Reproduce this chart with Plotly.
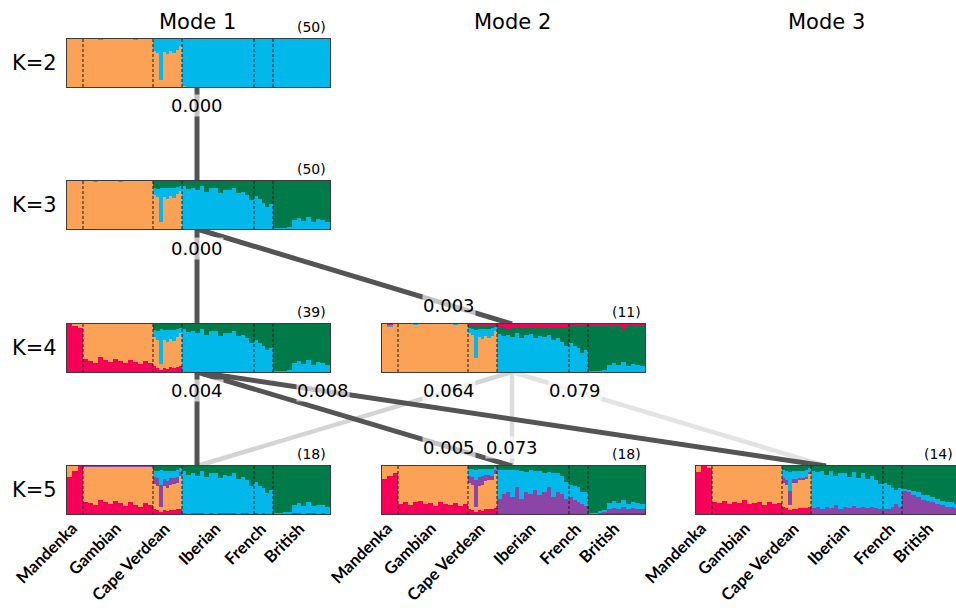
import plotly.graph_objects as go

W, H = 956, 608

# ---------------- data ----------------
populations = ["Mandenka", "Gambian", "Cape Verdean", "Iberian", "French", "British"]
pop_sizes = [16, 70, 29, 72, 19, 57]          # relative widths of the populations
bars_per_pop = [3, 14, 9, 16, 5, 12]          # groups of individuals drawn per population

# Values are percent membership, bottom-to-top; last component = remainder.
# order: Mandenka(3) Gambian(14) CapeVerdean(9) Iberian(16) French(5) British(12)

# Mode 1, K=2 : orange, cyan
m1k2_orange = [100, 100, 100,
               100, 100, 100, 99, 100, 100, 100, 100, 100, 100, 99, 100, 100, 100,
               75, 70, 15, 72, 68, 74, 70, 78, 85,
               3, 1, 0, 1, 0, 0, 1, 0, 0, 0, 1, 0, 0, 0, 0, 0,
               0, 0, 0, 0, 0,
               0, 0, 0, 0, 0, 0, 0, 0, 0, 0, 0, 0]

# Mode 1, K=3 : orange, cyan, green
m1k3_orange = [100, 100, 100,
               100, 100, 99, 100, 100, 100, 100, 99, 100, 100, 100, 100, 100, 100,
               70, 66, 14, 66, 62, 68, 64, 72, 80,
               1, 1, 0, 1, 0, 0, 1, 0, 0, 0, 1, 0, 0, 0, 0, 0,
               0, 0, 0, 0, 0,
               0, 0, 0, 0, 0, 0, 0, 0, 0, 0, 0, 0]
m1k3_cyan = [0, 0, 0,
             0, 0, 1, 0, 0, 0, 0, 1, 0, 0, 0, 0, 0, 0,
             16, 18, 72, 20, 24, 18, 22, 16, 10,
             88, 82, 86, 80, 90, 78, 84, 86, 76, 82, 80, 85, 74, 78, 70, 60,
             68, 62, 55, 45, 52,
             2, 2, 3, 4, 18, 22, 16, 24, 15, 20, 18, 14]

# Mode 1, K=4 : red, orange, cyan, green
m1k4_red = [100, 97, 92,
            28, 22, 18, 32, 24, 20, 28, 22, 18, 26, 20, 16, 22, 18,
            12, 8, 5, 9, 6, 10, 8, 10, 12,
            0, 0, 0, 0, 0, 0, 0, 0, 0, 0, 0, 0, 0, 0, 0, 0,
            0, 0, 0, 0, 0,
            0, 0, 0, 0, 0, 0, 0, 0, 0, 0, 0, 0]
m1k4_orange = [0, 3, 8,
               72, 78, 82, 68, 76, 80, 72, 78, 82, 74, 80, 84, 78, 82,
               60, 58, 12, 57, 56, 58, 56, 62, 70,
               1, 1, 0, 1, 0, 0, 1, 0, 0, 0, 1, 0, 0, 0, 0, 0,
               0, 0, 0, 0, 0,
               0, 0, 0, 0, 0, 0, 0, 0, 0, 0, 0, 0]
m1k4_cyan = [0, 0, 0,
             0, 0, 0, 0, 0, 0, 0, 0, 0, 0, 0, 0, 0, 0,
             16, 20, 72, 22, 26, 20, 24, 18, 9,
             88, 82, 86, 80, 90, 78, 84, 86, 76, 82, 80, 85, 74, 78, 70, 60,
             66, 60, 55, 45, 50,
             2, 2, 3, 4, 18, 22, 16, 24, 15, 20, 18, 14]

# Mode 2, K=4 : orange, cyan, green, red
m2k4_orange = [100, 95, 100,
               100, 100, 100, 99, 100, 100, 100, 100, 100, 100, 100, 99, 100, 100,
               82, 78, 30, 72, 68, 74, 70, 76, 86,
               0, 0, 0, 0, 0, 0, 0, 0, 0, 0, 0, 0, 0, 0, 0, 0,
               0, 0, 0, 0, 0,
               0, 0, 0, 0, 0, 0, 0, 0, 0, 0, 0, 0]
m2k4_cyan = [0, 3, 0,
             0, 0, 0, 1, 0, 0, 0, 0, 0, 0, 0, 1, 0, 0,
             10, 12, 58, 18, 22, 16, 20, 15, 7,
             80, 76, 78, 72, 82, 70, 78, 80, 70, 76, 72, 78, 66, 70, 62, 55,
             60, 55, 50, 40, 45,
             2, 2, 3, 4, 15, 18, 14, 20, 12, 16, 15, 12]
m2k4_green = [0, 0, 0,
              0, 0, 0, 0, 0, 0, 0, 0, 0, 0, 0, 0, 0, 0,
              5, 7, 8, 7, 7, 7, 7, 6, 5,
              11, 15, 12, 19, 9, 21, 13, 11, 21, 15, 19, 13, 25, 21, 29, 36,
              35, 40, 45, 55, 50,
              93, 93, 92, 91, 80, 77, 81, 70, 83, 79, 80, 83]

# Mode 1, K=5 : red, orange, purple, cyan, green
m1k5_red = [78, 90, 100,
            26, 22, 18, 30, 24, 20, 27, 22, 17, 25, 19, 15, 22, 18,
            10, 8, 5, 8, 6, 8, 8, 10, 10,
            0, 0, 0, 0, 0, 0, 0, 0, 0, 0, 0, 0, 0, 0, 0, 0,
            0, 0, 0, 0, 0,
            0, 0, 0, 0, 0, 0, 0, 0, 0, 0, 0, 0]
m1k5_orange = [22, 10, 0,
               72, 76, 80, 68, 74, 78, 71, 76, 81, 73, 79, 83, 76, 80,
               52, 50, 10, 50, 48, 52, 55, 55, 70,
               1, 0, 0, 1, 0, 0, 1, 0, 0, 0, 1, 0, 0, 0, 0, 0,
               0, 0, 0, 0, 0,
               0, 0, 0, 0, 0, 0, 0, 0, 0, 0, 0, 0]
m1k5_purple = [0, 0, 0,
               2, 2, 2, 2, 2, 2, 2, 2, 2, 2, 2, 2, 2, 2,
               15, 18, 45, 15, 15, 14, 12, 12, 8,
               2, 1, 2, 1, 2, 1, 2, 1, 2, 2, 1, 2, 1, 2, 2, 1,
               2, 1, 2, 1, 1,
               0, 0, 1, 1, 2, 2, 1, 2, 2, 1, 2, 1]
m1k5_cyan = [0, 0, 0,
             0, 0, 0, 0, 0, 0, 0, 0, 0, 0, 0, 0, 0, 0,
             13, 14, 32, 17, 20, 15, 15, 14, 7,
             86, 80, 84, 78, 88, 76, 82, 84, 74, 80, 78, 83, 72, 76, 68, 58,
             64, 58, 53, 43, 48,
             2, 2, 3, 4, 16, 20, 15, 22, 14, 18, 16, 13]

# Mode 2, K=5 : red, orange, purple, cyan, green
m2k5_red = [72, 80, 86,
            20, 25, 18, 24, 28, 20, 22, 17, 24, 20, 18, 22, 16, 20,
            10, 8, 5, 8, 6, 10, 10, 10, 12,
            1, 1, 1, 1, 1, 1, 1, 1, 1, 1, 1, 1, 1, 1, 1, 1,
            1, 1, 1, 1, 1,
            1, 1, 1, 2, 2, 2, 2, 2, 2, 2, 2, 2]
m2k5_orange = [28, 20, 14,
               80, 75, 82, 76, 72, 80, 78, 83, 76, 80, 82, 78, 84, 80,
               55, 52, 10, 50, 55, 58, 60, 60, 72,
               0, 0, 0, 0, 0, 0, 0, 0, 0, 0, 0, 0, 0, 0, 0, 0,
               0, 0, 0, 0, 0,
               0, 0, 0, 0, 0, 0, 0, 0, 0, 0, 0, 0]
m2k5_purple = [0, 0, 0,
               0, 0, 0, 0, 0, 0, 0, 0, 0, 0, 0, 0, 0, 0,
               15, 18, 55, 20, 18, 14, 12, 10, 7,
               30, 40, 45, 35, 55, 30, 45, 40, 50, 38, 45, 55, 35, 45, 40, 30,
               35, 28, 25, 20, 15,
               0, 0, 2, 3, 8, 10, 8, 12, 8, 10, 8, 8]
m2k5_cyan = [0, 0, 0,
             0, 0, 0, 0, 0, 0, 0, 0, 0, 0, 0, 0, 0, 0,
             14, 16, 22, 15, 15, 12, 12, 14, 7,
             60, 50, 45, 55, 36, 58, 42, 50, 38, 50, 40, 32, 50, 40, 38, 35,
             25, 30, 30, 25, 30,
             2, 2, 3, 4, 12, 15, 12, 16, 10, 14, 12, 10]

# Mode 3, K=5 : red, orange, purple, cyan, green
m3k5_red = [88, 100, 95,
            26, 22, 28, 20, 25, 22, 30, 20, 22, 25, 18, 24, 20, 22,
            14, 12, 8, 10, 10, 12, 12, 12, 15,
            0, 0, 0, 0, 0, 0, 0, 0, 0, 0, 0, 0, 0, 0, 0, 0,
            0, 0, 0, 0, 0,
            0, 0, 0, 0, 0, 0, 0, 0, 0, 0, 0, 0]
m3k5_orange = [12, 0, 5,
               74, 78, 72, 80, 75, 78, 70, 80, 78, 75, 82, 76, 80, 78,
               50, 48, 10, 55, 55, 58, 58, 60, 68,
               0, 0, 0, 0, 0, 0, 0, 0, 0, 0, 0, 0, 0, 0, 0, 0,
               0, 0, 0, 0, 0,
               0, 0, 0, 0, 0, 0, 0, 0, 0, 0, 0, 0]
m3k5_purple = [0, 0, 0,
               0, 0, 0, 0, 0, 0, 0, 0, 0, 0, 0, 0, 0, 0,
               10, 10, 30, 8, 8, 5, 5, 5, 5,
               12, 15, 10, 14, 12, 18, 10, 15, 12, 16, 12, 15, 12, 14, 12, 10,
               10, 10, 14, 20, 15,
               48, 45, 40, 35, 30, 28, 25, 20, 18, 15, 14, 12]
m3k5_cyan = [0, 0, 0,
             0, 0, 0, 0, 0, 0, 0, 0, 0, 0, 0, 0, 0, 0,
             18, 20, 40, 17, 17, 15, 15, 15, 8,
             78, 72, 80, 68, 78, 62, 76, 70, 66, 72, 64, 70, 60, 66, 58, 52,
             55, 50, 40, 30, 40,
             4, 5, 8, 10, 10, 12, 10, 12, 10, 10, 10, 8]

run_counts = {"m1k2": 50, "m1k3": 50, "m1k4": 39, "m2k4": 11, "m1k5": 18, "m2k5": 18, "m3k5": 14}

# connections: upper mode/K -> lower mode/K, with distance
conn_from_mode = [1, 1, 1, 1, 1, 1, 2, 2, 2]
conn_from_k = [2, 3, 3, 4, 4, 4, 4, 4, 4]
conn_to_mode = [1, 1, 2, 1, 2, 3, 1, 2, 3]
conn_to_k = [3, 4, 4, 5, 5, 5, 5, 5, 5]
conn_value = [0.000, 0.000, 0.003, 0.004, 0.005, 0.008, 0.064, 0.073, 0.079]
conn_label_pos = [0.2, 0.2, 0.8, 0.2, 0.8, 0.2, 0.2, 0.8, 0.2]

# ---------------- styling / layout ----------------
COL = dict(red="#f6005a", orange="#fba257", purple="#8b45a7", cyan="#00b9ea", green="#007a48")
FONT = "DejaVu Sans"

# page-pixel geometry of the panels
panel_x = {1: (67, 330), 2: (382, 645), 3: (696, 959)}
row_y = {2: (39, 87), 3: (181, 229), 4: (324, 372), 5: (466, 514)}

def fx(px):
    return px / W

def fy(py):
    return 1 - py / H

def rest(*arrs):
    return [100 - sum(v) for v in zip(*arrs)]

panels = [
    dict(key="m1k2", mode=1, K=2, comps=[("orange", m1k2_orange), ("cyan", rest(m1k2_orange))]),
    dict(key="m1k3", mode=1, K=3, comps=[("orange", m1k3_orange), ("cyan", m1k3_cyan),
                                         ("green", rest(m1k3_orange, m1k3_cyan))]),
    dict(key="m1k4", mode=1, K=4, comps=[("red", m1k4_red), ("orange", m1k4_orange), ("cyan", m1k4_cyan),
                                         ("green", rest(m1k4_red, m1k4_orange, m1k4_cyan))]),
    dict(key="m2k4", mode=2, K=4, comps=[("orange", m2k4_orange), ("cyan", m2k4_cyan), ("green", m2k4_green),
                                         ("red", rest(m2k4_orange, m2k4_cyan, m2k4_green))]),
    dict(key="m1k5", mode=1, K=5, comps=[("red", m1k5_red), ("orange", m1k5_orange), ("purple", m1k5_purple),
                                         ("cyan", m1k5_cyan),
                                         ("green", rest(m1k5_red, m1k5_orange, m1k5_purple, m1k5_cyan))]),
    dict(key="m2k5", mode=2, K=5, comps=[("red", m2k5_red), ("orange", m2k5_orange), ("purple", m2k5_purple),
                                         ("cyan", m2k5_cyan),
                                         ("green", rest(m2k5_red, m2k5_orange, m2k5_purple, m2k5_cyan))]),
    dict(key="m3k5", mode=3, K=5, comps=[("red", m3k5_red), ("orange", m3k5_orange), ("purple", m3k5_purple),
                                         ("cyan", m3k5_cyan),
                                         ("green", rest(m3k5_red, m3k5_orange, m3k5_purple, m3k5_cyan))]),
]

# bar positions in population units
total = sum(pop_sizes)
centers, widths, pop_starts = [], [], []
s = 0
for size, n in zip(pop_sizes, bars_per_pop):
    pop_starts.append(s)
    w = size / n
    for i in range(n):
        centers.append(s + (i + 0.5) * w)
        widths.append(w * 1.04)
    s += size
boundaries = pop_starts[1:]

fig = go.Figure()
layout = dict(
    width=W, height=H, margin=dict(l=0, r=0, t=0, b=0),
    paper_bgcolor="white", plot_bgcolor="white", barmode="stack",
    showlegend=False, font=dict(family=FONT, color="black"),
)
# overlay axis for the connecting lines (page-pixel units)
layout["xaxis"] = dict(domain=[0, 1], range=[0, W], visible=False, fixedrange=True)
layout["yaxis"] = dict(domain=[0, 1], range=[H, 0], visible=False, fixedrange=True)

def lcolor(v):
    if v < 0.03:
        return "#545454"
    g = int(min(232, 212 + (v - 0.064) * 1000))
    return f"rgb({g},{g},{g})"

# light lines first so dark ones sit on top
order = sorted(range(len(conn_value)), key=lambda i: -conn_value[i])
annotations = []
for i in order:
    ux0, ux1 = panel_x[conn_from_mode[i]]
    lx0, lx1 = panel_x[conn_to_mode[i]]
    x0 = (ux0 + ux1) / 2 - 1.5
    y0 = row_y[conn_from_k[i]][1]
    x1 = (lx0 + lx1) / 2 - 1.5
    y1 = row_y[conn_to_k[i]][0]
    v = conn_value[i]
    fig.add_trace(go.Scatter(x=[x0, x1], y=[y0, y1], mode="lines", xaxis="x", yaxis="y",
                             line=dict(color=lcolor(v), width=5 if v < 0.03 else 4.5),
                             hoverinfo="skip"))
    f = conn_label_pos[i]
    annotations.append(dict(x=x0 + f * (x1 - x0), y=y0 + f * (y1 - y0), xref="x", yref="y",
                            text=f"{v:.3f}", showarrow=False, font=dict(size=18, family=FONT),
                            bgcolor="rgba(255,255,255,0.65)", borderpad=0))

shapes = []
for j, p in enumerate(panels):
    n = j + 2
    px0, px1 = panel_x[p["mode"]]
    py0, py1 = row_y[p["K"]]
    clip = px1 > W
    dom_x1 = min(px1, W)
    xr = total * (dom_x1 - px0) / (px1 - px0)
    layout[f"xaxis{n}"] = dict(domain=[fx(px0), fx(dom_x1)], range=[0, xr], anchor=f"y{n}",
                               showticklabels=False, ticks="", showgrid=False, zeroline=False,
                               showline=True, mirror=True, linecolor="#3c3c3c", linewidth=1,
                               fixedrange=True)
    layout[f"yaxis{n}"] = dict(domain=[fy(py1), fy(py0)], range=[0, 100], anchor=f"x{n}",
                               showticklabels=False, ticks="", showgrid=False, zeroline=False,
                               showline=True, mirror=not clip, linecolor="#3c3c3c", linewidth=1,
                               fixedrange=True)
    for cname, vals in p["comps"]:
        fig.add_trace(go.Bar(x=centers, y=vals, width=widths, xaxis=f"x{n}", yaxis=f"y{n}",
                             marker=dict(color=COL[cname], line=dict(width=0)),
                             hoverinfo="skip"))
    for b in boundaries:
        shapes.append(dict(type="line", xref=f"x{n}", yref=f"y{n} domain", x0=b, x1=b, y0=0, y1=1,
                           line=dict(color="#1a1a1a", width=1, dash="3px,2px")))
    annotations.append(dict(x=fx(min(px1 - 2, W - 1)), y=fy(py0 - 2), xref="paper", yref="paper",
                            xanchor="right", yanchor="bottom", showarrow=False,
                            text=f"({run_counts[p['key']]})", font=dict(size=14, family=FONT)))

# mode titles
for m, (px0, px1) in panel_x.items():
    annotations.append(dict(x=fx((px0 + px1) / 2 - 1), y=fy(22), xref="paper", yref="paper",
                            text=f"Mode {m}", showarrow=False, font=dict(size=21, family=FONT),
                            xanchor="center", yanchor="middle"))
# K labels
for K, (py0, py1) in row_y.items():
    annotations.append(dict(x=fx(59), y=fy((py0 + py1) / 2), xref="paper", yref="paper",
                            text=f"K={K}", showarrow=False, font=dict(size=21, family=FONT),
                            xanchor="right", yanchor="middle"))
# population labels under the bottom row
for m, (px0, px1) in panel_x.items():
    scale = (px1 - px0) / total
    for name, st, size in zip(populations, pop_starts, pop_sizes):
        cx = px0 + (st + size / 2) * scale
        annotations.append(dict(x=fx(cx + 9), y=fy(516), xref="paper", yref="paper",
                                text=name, showarrow=False, textangle=-45,
                                font=dict(size=16.5, family="Lato", weight="bold"),
                                xanchor="right", yanchor="top"))

layout["annotations"] = annotations
layout["shapes"] = shapes
fig.update_layout(**layout)
fig.write_html("out.html", config={"displayModeBar": False},
               post_script="document.body.style.margin='0';")
